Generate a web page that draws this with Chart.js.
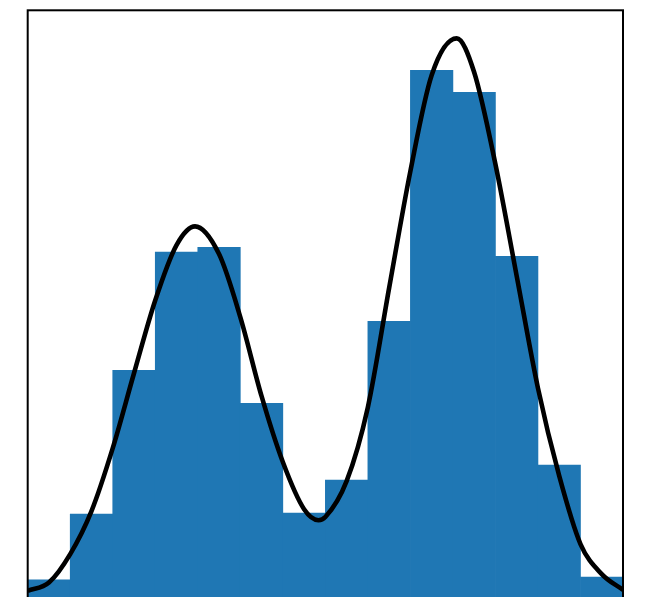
<!DOCTYPE html>
<html>
<head>
<meta charset="utf-8">
<script src="https://cdn.jsdelivr.net/npm/chart.js@4/dist/chart.umd.min.js"></script>
<style>
  html, body { margin: 0; padding: 0; background: #ffffff; overflow: hidden; }
  #wrap { width: 661px; height: 597px; overflow: hidden; }
</style>
</head>
<body>
<div id="wrap"><canvas id="c" width="661" height="610"></canvas></div>
<script>
// Histogram: 14 equal-width bins (edges 0..14), density per bin
const binEdges = [0, 1, 2, 3, 4, 5, 6, 7, 8, 9, 10, 11, 12, 13, 14];
const binDensity = [0.0056, 0.0260, 0.0705, 0.1071, 0.1086, 0.0603, 0.0263,
                    0.0365, 0.0857, 0.1634, 0.1566, 0.1058, 0.0412, 0.0065];

// Smoothed density estimate, sampled every half bin plus the two peaks and the dip
const kdeX = [0, 0.5, 1.0, 1.5, 2.0, 2.5, 3.0, 3.5, 3.935, 4.5, 5.0, 5.5, 6.0, 6.5,
              6.839, 7.0, 7.5, 8.0, 8.5, 9.0, 9.5, 10.089, 10.5, 11.0, 11.5, 12.0,
              12.5, 13.0, 13.5, 14.0];
const kdeY = [0.0022, 0.0048, 0.0136, 0.0269, 0.0464, 0.0696, 0.0922, 0.1093, 0.1151,
              0.1065, 0.0870, 0.0625, 0.0421, 0.0275, 0.0241, 0.0251, 0.0362, 0.0591,
              0.0960, 0.1322, 0.1619, 0.1733, 0.1628, 0.1343, 0.0997, 0.0650, 0.0378,
              0.0167, 0.0074, 0.0025];

const yMax = 0.182;

const barPoints = binDensity.map((d, i) => ({ x: (binEdges[i] + binEdges[i + 1]) / 2, y: d }));
const curvePoints = kdeX.map((x, i) => ({ x: x, y: kdeY[i] }));

// Black frame around the plotting area
const framePlugin = {
  id: 'frame',
  afterDatasetsDraw(chart) {
    const a = chart.chartArea, ctx = chart.ctx;
    ctx.save();
    ctx.strokeStyle = '#000000';
    ctx.lineWidth = 2;
    ctx.strokeRect(a.left, a.top, a.right - a.left, a.bottom - a.top);
    ctx.restore();
  }
};

new Chart(document.getElementById('c'), {
  type: 'bar',
  data: {
    datasets: [
      {
        type: 'line',
        data: curvePoints,
        borderColor: '#000000',
        borderWidth: 4.6,
        pointRadius: 0,
        fill: false,
        cubicInterpolationMode: 'monotone',
        order: 0
      },
      {
        type: 'bar',
        data: barPoints,
        backgroundColor: '#1f77b4',
        borderWidth: 0,
        barPercentage: 1.0,
        categoryPercentage: 1.0,
        order: 1
      }
    ]
  },
  options: {
    responsive: false,
    animation: false,
    events: [],
    layout: { padding: { left: 27.7, right: 38, top: 10.3, bottom: 12 } },
    plugins: { legend: { display: false }, tooltip: { enabled: false } },
    scales: {
      x: { type: 'linear', min: binEdges[0], max: binEdges[binEdges.length - 1], offset: false, display: false },
      y: { min: 0, max: yMax, display: false }
    }
  },
  plugins: [framePlugin]
});
</script>
</body>
</html>
